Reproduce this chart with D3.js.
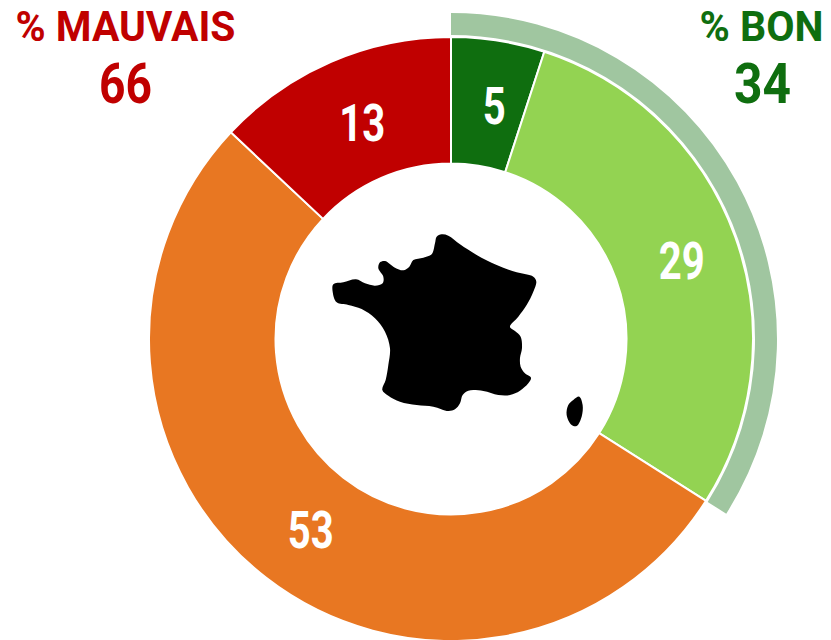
<!DOCTYPE html>
<meta charset="utf-8">
<title>% bon / % mauvais</title>
<style>
body {
  margin: 0;
  background: #fff;
}

text {
  font-family: Roboto, sans-serif;
  font-weight: 700;
}
</style>
<body>
<div id="chart"></div>

<script src="https://d3js.org/d3.v7.min.js"></script>
<script>
// Values
const categories = ["tres bon", "bon", "moyen", "mauvais"];
const values = [5, 29, 53, 13];
const sliceColors = ["#0f6e0f", "#93d352", "#e87722", "#c00000"];

const goodLabel = "% BON";
const goodTotal = 34;
const badLabel = "% MAUVAIS";
const badTotal = 66;

const width = 831;
const height = 640;
const cx = 451;
const cy = 339;

const svg = d3.select("#chart")
  .append("svg")
    .attr("width", width)
    .attr("height", height)
    .style("display", "block");

const g = svg.append("g")
    .attr("transform", `translate(${cx},${cy})`);

const pie = d3.pie().sort(null).value(d => d);
const arc = d3.arc().innerRadius(175.5).outerRadius(302);
const slices = pie(values);

// Outer band showing the "bon" share
const angle = d3.scaleLinear().domain([0, 100]).range([0, 2 * Math.PI]);
g.append("path")
    .attr("d", d3.arc()({
      innerRadius: 304,
      outerRadius: 326,
      startAngle: angle(0),
      endAngle: angle(goodTotal)
    }))
    .attr("fill", "#a0c6a0");

g.selectAll("path.slice")
  .data(slices)
  .enter().append("path")
    .attr("class", "slice")
    .attr("d", arc)
    .attr("fill", (d, i) => sliceColors[i])
    .attr("stroke", "#fff")
    .attr("stroke-width", 2);

g.selectAll("text.value")
  .data(slices)
  .enter().append("text")
    .attr("class", "value")
    .attr("transform", d => {
      const c = arc.centroid(d);
      return `translate(${c[0] + 6},${c[1] + 2})`;
    })
    .attr("text-anchor", "middle")
    .attr("dy", "0.36em")
    .attr("font-size", 52)
    .attr("fill", "#fff")
    .attr("textLength", d => String(d.data).length * 23)
    .attr("lengthAdjust", "spacingAndGlyphs")
    .text(d => d.data);

// Headers in the corners
function header(x, y, txt, size, len, color) {
  svg.append("text")
      .attr("x", x)
      .attr("y", y)
      .attr("text-anchor", "middle")
      .attr("font-size", size)
      .attr("fill", color)
      .attr("textLength", len)
      .attr("lengthAdjust", "spacingAndGlyphs")
      .text(txt);
}
header(125.5, 41, badLabel, 42, 220, "#c00000");
header(125.5, 103, badTotal, 55, 53, "#c00000");
header(761.5, 41, goodLabel, 42, 124, "#0f6e0f");
header(762.5, 103, goodTotal, 55, 57, "#0f6e0f");

// France silhouette, traced in a 3x crop of the centre
const mainland = [[365,28],[385,32],[420,58],[470,90],[530,120],[590,142],[640,155],[649,170],[640,200],[620,240],[595,275],[570,305],[585,318],[602,335],[606,370],[600,400],[602,425],[615,445],[633,458],[625,475],[600,497],[570,510],[535,510],[490,498],[445,497],[428,510],[420,535],[405,553],[385,558],[340,545],[290,540],[240,530],[205,512],[187,495],[197,465],[205,420],[210,370],[195,320],[165,280],[125,252],[85,240],[50,232],[38,200],[40,178],[70,172],[108,163],[135,175],[165,182],[188,175],[190,155],[175,130],[180,112],[195,108],[225,128],[250,136],[268,125],[280,105],[310,98],[335,88],[345,55],[350,35]];
const corsica = [[778,515],[788,540],[785,575],[770,603],[755,600],[740,570],[745,540],[760,525]];

const outline = d3.line().curve(d3.curveCatmullRomClosed.alpha(0.5));
const map = svg.append("g")
    .attr("transform", "translate(320,225) scale(0.3333)");
map.selectAll("path")
  .data([mainland, corsica])
  .enter().append("path")
    .attr("d", d => outline(d))
    .attr("fill", "#000");
</script>
</body>
</html>
